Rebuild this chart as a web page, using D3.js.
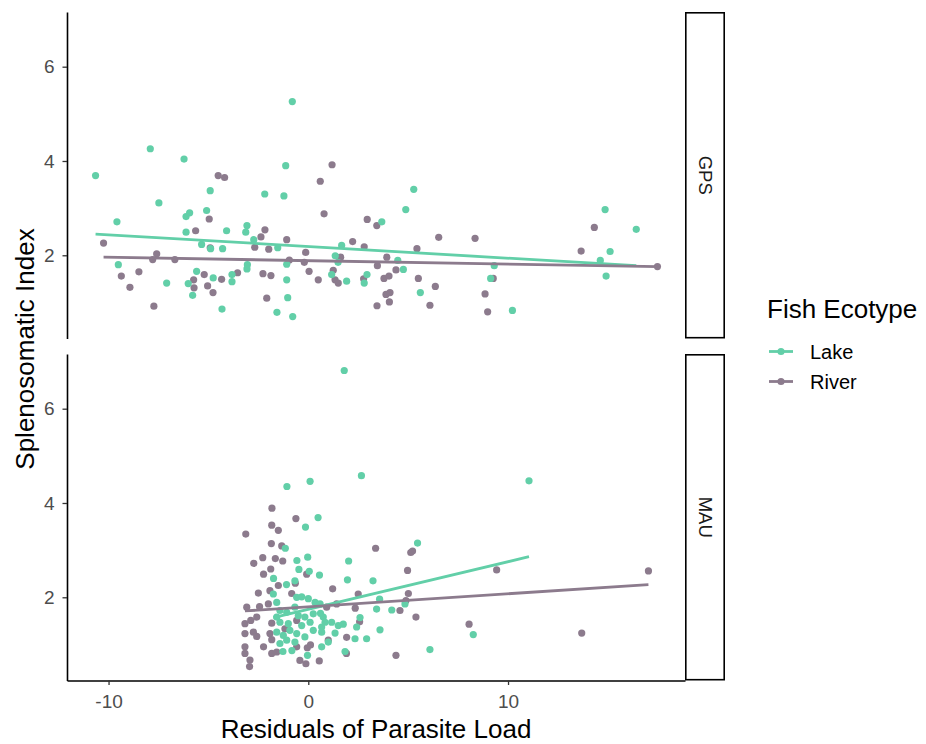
<!DOCTYPE html>
<html>
<head>
<meta charset="utf-8">
<script src="https://cdn.jsdelivr.net/npm/d3@7"></script>
<style>
  body { margin: 0; background: #fff; }
  text { font-family: "Liberation Sans", Arial, sans-serif; }
</style>
</head>
<body>
<div id="chart"></div>
<script>
// Panels (facet rows)
const panels = ['GPS', 'MAU']
const ecotypes = ['Lake', 'River']
const ecoColors = ['#62CFA8', '#8C7B8D']

// Points [residual parasite load, splenosomatic index]
const gpsLake = [
  [-10.65, 3.69], [-7.91, 4.26], [-6.22, 4.04], [-0.80, 5.26], [-1.13, 3.90], [-9.58, 2.71],
  [-7.48, 3.11], [-4.91, 3.37], [-6.12, 2.82], [-5.94, 2.90], [-5.09, 2.95], [-6.12, 2.49],
  [-4.09, 2.52], [-3.07, 2.63], [-3.13, 2.49], [-2.18, 3.30], [-1.22, 3.26], [-2.73, 2.33],
  [-5.34, 2.23], [-4.89, 2.14], [-4.29, 2.14], [-1.53, 2.16], [1.67, 2.21], [3.68, 2.71],
  [-9.51, 1.80], [1.35, 1.99], [-1.08, 1.81], [1.49, 1.85], [-5.59, 1.66], [-3.05, 1.80],
  [-3.07, 1.71], [-3.82, 1.59], [-3.82, 1.44], [-4.76, 1.52], [-6.01, 1.40], [-7.09, 1.41],
  [-1.08, 1.48], [1.17, 1.59], [1.92, 1.45], [2.80, 1.41], [2.94, 1.59], [-5.79, 1.15],
  [-1.03, 1.10], [-4.32, 0.86], [-1.57, 0.79], [-0.78, 0.70], [5.28, 3.40], [4.88, 2.97],
  [4.48, 1.89], [4.76, 1.70], [9.31, 1.78], [9.13, 1.51], [5.61, 1.21], [10.22, 0.83],
  [14.86, 2.97], [16.42, 2.55], [15.11, 2.08], [14.62, 1.89], [14.91, 1.56]
]
const gpsRiver = [
  [-10.25, 2.26], [-4.51, 3.69], [-4.19, 3.65], [1.19, 3.92], [0.60, 3.57], [0.79, 2.88],
  [-4.96, 2.77], [-5.64, 2.52], [-2.17, 2.54], [-2.37, 2.39], [-1.08, 2.33], [2.22, 2.29],
  [2.80, 2.18], [2.95, 2.76], [3.43, 2.63], [-4.91, 2.16], [-2.68, 2.17], [-1.98, 2.13],
  [-7.59, 2.03], [-7.79, 1.91], [-6.68, 1.91], [-0.95, 1.90], [-0.13, 2.06], [-0.20, 1.85],
  [1.62, 1.96], [3.46, 1.78], [-9.36, 1.56], [-8.48, 1.65], [-8.93, 1.32], [-7.73, 0.92],
  [-5.21, 1.59], [-5.74, 1.48], [-4.34, 1.49], [-3.54, 1.63], [-2.27, 1.61], [-1.87, 1.57],
  [-5.04, 1.35], [-4.77, 1.21], [-5.72, 1.31], [0.04, 1.66], [0.50, 1.48], [1.25, 1.68],
  [1.34, 1.48], [1.50, 1.41], [2.77, 1.50], [-2.08, 1.09], [3.44, 0.93], [6.53, 2.38],
  [8.35, 2.36], [5.44, 2.14], [3.93, 1.96], [4.39, 1.69], [3.79, 1.51], [4.04, 1.56],
  [5.51, 1.51], [6.36, 1.34], [3.89, 1.17], [4.09, 1.21], [4.06, 1.01], [6.09, 0.94],
  [9.26, 1.51], [8.85, 1.18], [8.98, 0.80], [13.66, 2.09], [14.32, 2.59], [17.48, 1.76]
]
const mauLake = [
  [1.80, 6.81], [2.66, 4.58], [-1.07, 4.35], [0.09, 4.46], [11.05, 4.47], [-0.14, 3.49],
  [0.49, 3.69], [-1.15, 3.04], [-0.57, 2.78], [-0.03, 2.85], [-0.47, 2.59], [0.05, 2.55],
  [0.56, 2.47], [2.02, 2.77], [5.47, 3.15], [-1.74, 2.40], [1.96, 2.37], [3.24, 2.35],
  [-1.09, 2.27], [-0.67, 2.35], [-1.75, 2.07], [-0.58, 2.00], [-0.33, 2.01], [0.00, 1.97],
  [0.34, 1.89], [0.59, 1.86], [-1.58, 1.89], [-1.42, 1.72], [-1.08, 1.68], [-0.67, 1.79],
  [-0.50, 1.61], [-0.17, 1.58], [0.25, 1.65], [0.61, 1.66], [-1.58, 1.58], [-1.42, 1.47],
  [-1.00, 1.44], [-0.33, 1.40], [0.09, 1.47], [0.25, 1.30], [0.67, 1.37], [-1.58, 1.26],
  [-1.25, 1.19], [-0.92, 1.30], [-0.58, 1.23], [-0.17, 1.16], [-1.42, 1.02], [-1.08, 1.09],
  [-0.67, 1.05], [-1.27, 0.85], [-0.82, 0.87], [-0.04, 0.77], [0.67, 0.95], [1.00, 1.05],
  [0.75, 1.58], [0.84, 1.47], [1.17, 1.47], [1.50, 1.40], [1.75, 1.43], [1.34, 1.24],
  [2.42, 1.37], [2.59, 1.57], [2.34, 1.12], [2.92, 1.12], [3.59, 1.31], [1.84, 0.85],
  [0.67, 1.26], [3.42, 1.75], [4.18, 1.73], [3.57, 1.96], [4.84, 1.86], [6.09, 0.89],
  [8.26, 1.21]
]
const mauRiver = [
  [-3.13, 3.34], [-1.82, 3.89], [-0.62, 3.67], [-1.83, 3.53], [-1.50, 3.42], [-1.85, 3.14],
  [-1.33, 3.09], [-2.73, 2.72], [-2.28, 2.84], [-1.65, 2.82], [-1.28, 2.77], [-1.88, 2.60],
  [-2.24, 2.49], [-0.08, 2.49], [-0.65, 2.30], [3.37, 3.04], [1.22, 2.18], [2.50, 2.07],
  [-2.50, 2.09], [-1.92, 2.14], [-1.50, 2.25], [-0.83, 2.08], [-3.08, 1.79], [-2.44, 1.80],
  [-2.00, 1.86], [1.42, 1.86], [0.92, 1.79], [2.35, 1.77], [2.57, 1.48], [-3.17, 1.44],
  [-2.88, 1.51], [-2.58, 1.58], [-1.83, 1.45], [-3.17, 1.23], [-2.75, 1.26], [-2.58, 1.17],
  [-2.24, 0.95], [-3.17, 0.95], [-3.17, 0.81], [-2.92, 0.67], [-2.94, 0.53], [-1.92, 1.23],
  [-1.83, 1.10], [-1.83, 0.81], [-1.58, 0.84], [-0.58, 0.95], [-0.05, 0.93], [0.11, 0.99],
  [-0.42, 0.66], [-0.12, 0.59], [0.55, 0.65], [-0.58, 1.51], [-1.17, 1.33], [1.92, 1.15],
  [1.91, 0.81], [1.00, 1.09], [5.01, 2.08], [4.89, 1.93], [4.59, 1.72], [5.39, 1.58],
  [4.39, 0.77], [4.97, 2.57], [5.13, 2.95], [5.22, 2.98], [9.43, 2.58], [17.03, 2.56],
  [8.05, 1.43], [13.69, 1.24]
]

// Linear fits: [x0, y0, x1, y1]
const gpsLakeFit = [-10.65, 2.45, 16.42, 1.78]
const gpsRiverFit = [-10.25, 1.96, 17.48, 1.76]
const mauLakeFit = [-1.75, 1.57, 11.05, 2.86]
const mauRiverFit = [-3.17, 1.71, 17.03, 2.27]

const xTicks = [-10, 0, 10]
const yTicks = [2, 4, 6]
const xDomain = [-12.08, 18.86]
const yDomain = [0.235, 7.16]

const panelData = [
  { name: panels[0], series: [gpsLake, gpsRiver], fits: [gpsLakeFit, gpsRiverFit] },
  { name: panels[1], series: [mauLake, mauRiver], fits: [mauLakeFit, mauRiverFit] }
]

// Dimensions
const width = 926
const height = 744
const plotLeft = 67
const plotRight = 685
const panelTops = [12, 354]
const panelHeight = 326.5
const stripWidth = 40

// ggplot style labels: plain hyphen for negatives
const tickFmt = d => String(d)

const svg = d3.select('#chart')
  .append('svg')
  .attr('width', width)
  .attr('height', height)

const xScale = d3.scaleLinear().domain(xDomain).range([plotLeft, plotRight])

panelData.forEach((p, i) => {
  const top = panelTops[i]
  const yScale = d3.scaleLinear().domain(yDomain).range([top + panelHeight, top])

  const g = svg.append('g')

  // Points - river underneath, lake on top
  ;[1, 0].forEach(s => {
    g.append('g')
      .selectAll('circle')
      .data(p.series[s])
      .join('circle')
      .attr('cx', d => xScale(d[0]))
      .attr('cy', d => yScale(d[1]))
      .attr('r', 3.6)
      .attr('fill', ecoColors[s])
  })

  // Fit lines
  ;[0, 1].forEach(s => {
    const f = p.fits[s]
    g.append('line')
      .attr('x1', xScale(f[0]))
      .attr('y1', yScale(f[1]))
      .attr('x2', xScale(f[2]))
      .attr('y2', yScale(f[3]))
      .attr('stroke', ecoColors[s])
      .attr('stroke-width', 2.8)
  })

  // Left axis
  const yAxis = g.append('g')
    .attr('transform', `translate(${plotLeft},0)`)
    .call(d3.axisLeft(yScale).tickValues(yTicks).tickFormat(tickFmt)
      .tickSize(4.5).tickPadding(8).tickSizeOuter(0))
  yAxis.select('.domain').attr('stroke', '#000').attr('stroke-width', 1.6)
  yAxis.selectAll('.tick line').attr('stroke', '#333').attr('stroke-width', 1.3)
  yAxis.selectAll('.tick text')
    .attr('fill', '#4D4D4D')
    .style('font-size', '19px')
    .style('font-family', '"Liberation Sans", Arial, sans-serif')

  // Strip on the right
  g.append('rect')
    .attr('x', plotRight + 0.8)
    .attr('y', top + 0.8)
    .attr('width', stripWidth - 1.6)
    .attr('height', panelHeight - 1.6)
    .attr('fill', '#fff')
    .attr('stroke', '#000')
    .attr('stroke-width', 1.6)

  g.append('text')
    .attr('transform', `translate(${plotRight + stripWidth / 2}, ${top + panelHeight / 2}) rotate(90)`)
    .attr('text-anchor', 'middle')
    .attr('dy', '0.35em')
    .attr('fill', '#1A1A1A')
    .style('font-size', '18.5px')
    .text(p.name)

  // Bottom axis on last panel only
  if (i === panelData.length - 1) {
    const xAxis = g.append('g')
      .attr('transform', `translate(0,${top + panelHeight})`)
      .call(d3.axisBottom(xScale).tickValues(xTicks).tickFormat(tickFmt)
        .tickSize(4.5).tickPadding(10).tickSizeOuter(0))
    xAxis.select('.domain').attr('stroke', '#000').attr('stroke-width', 1.6)
    xAxis.selectAll('.tick line').attr('stroke', '#333').attr('stroke-width', 1.3)
    xAxis.selectAll('.tick text')
      .attr('fill', '#4D4D4D')
      .style('font-size', '19px')
      .style('font-family', '"Liberation Sans", Arial, sans-serif')
  }
})

// Axis titles
svg.append('text')
  .attr('x', 376)
  .attr('y', 738)
  .attr('text-anchor', 'middle')
  .style('font-size', '26px')
  .text('Residuals of Parasite Load')

svg.append('text')
  .attr('transform', `translate(34, 349) rotate(-90)`)
  .attr('text-anchor', 'middle')
  .style('font-size', '26px')
  .text('Splenosomatic Index')

// Legend
const legend = svg.append('g').attr('transform', 'translate(767, 0)')
legend.append('text')
  .attr('x', 0)
  .attr('y', 318)
  .style('font-size', '26px')
  .text('Fish Ecotype')

ecotypes.forEach((e, k) => {
  const cy = 351.5 + k * 30
  legend.append('line')
    .attr('x1', 2).attr('x2', 26)
    .attr('y1', cy).attr('y2', cy)
    .attr('stroke', ecoColors[k])
    .attr('stroke-width', 2.8)
  legend.append('circle')
    .attr('cx', 14).attr('cy', cy)
    .attr('r', 3.6)
    .attr('fill', ecoColors[k])
  legend.append('text')
    .attr('x', 43)
    .attr('y', cy)
    .attr('dy', '0.35em')
    .style('font-size', '20px')
    .text(e)
})
</script>
</body>
</html>
